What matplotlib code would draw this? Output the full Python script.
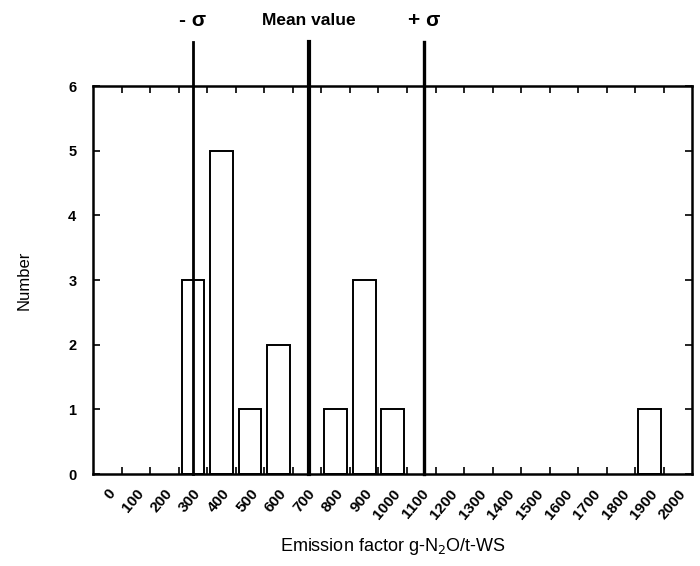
import matplotlib.pyplot as plt
import numpy as np
from matplotlib.ticker import FixedLocator

plt.rcParams['font.family'] = ['Liberation Sans', 'DejaVu Sans']

# histogram bins (g-N2O/t-WS) and counts per bin
BINS = [0, 100, 200, 300, 400, 500, 600, 700, 800, 900, 1000,
        1100, 1200, 1300, 1400, 1500, 1600, 1700, 1800, 1900, 2000]
COUNTS = [0, 0, 0, 3, 5, 1, 2, 0, 1, 3, 1,
          0, 0, 0, 0, 0, 0, 0, 0, 1, 0]
MEAN = 705
SIGMA = 405

fig = plt.figure(figsize=(7, 5.66), dpi=100)
ax = fig.add_axes([0.133, 0.1625, 0.856, 0.6855])

x = np.array(BINS)
counts = np.array(COUNTS)
nz = counts > 0
ax.bar(x[nz], counts[nz], width=80, color='white', edgecolor='black',
       linewidth=1.4, zorder=2)

ax.set_xlim(-50, 2050)
ax.set_ylim(0, 6)

ax.set_xticks(BINS)
ax.set_xticklabels([str(b) for b in BINS], rotation=50, ha='right',
                   rotation_mode='anchor', fontsize=11, fontweight='bold')
ax.xaxis.set_minor_locator(FixedLocator(np.arange(50, 2050, 100)))
ax.tick_params(axis='x', which='major', length=0, pad=9)
ax.tick_params(axis='x', which='minor', direction='in', length=5, width=1.2,
               top=True, bottom=True)

ax.set_yticks(range(7))
ax.set_yticklabels([str(i) for i in range(7)], fontsize=10.5, fontweight='bold')
ax.tick_params(axis='y', direction='in', length=5, width=1.2,
               left=True, right=True, pad=12)

for side in ['left', 'right', 'top', 'bottom']:
    ax.spines[side].set_linewidth(1.8)

# mean and +/- sigma markers extending above the plot
lines = [(MEAN - SIGMA, 2.0, '- σ'), (MEAN, 3.0, 'Mean value'),
         (MEAN + SIGMA, 2.4, '+ σ')]
for pos, lw, label in lines:
    ax.axvline(pos, ymin=0, ymax=1.113, color='black', linewidth=lw,
               clip_on=False, zorder=3)
    size = 12.5 if label == 'Mean value' else 15
    ax.text(pos, 1.17, label, transform=ax.get_xaxis_transform(),
            ha='center', va='center', fontsize=size, fontweight='bold')

ax.set_ylabel('Number', fontsize=12)
ax.yaxis.set_label_coords(-0.102, 0.5)
ax.set_xlabel('Emission factor g-N$_2$O/t-WS', fontsize=13)
ax.xaxis.set_label_coords(0.5, -0.16)

fig.savefig('out.png', dpi=100)
